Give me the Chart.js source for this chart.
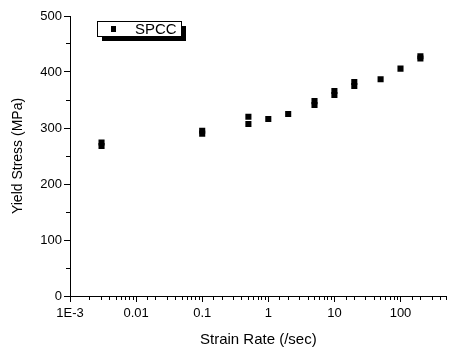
<!DOCTYPE html>
<html>
<head>
<meta charset="utf-8">
<script src="https://cdn.jsdelivr.net/npm/chart.js@4/dist/chart.umd.min.js"></script>
<style>
  html, body { margin: 0; padding: 0; background: #fff; }
  #wrap { width: 451px; height: 353px; }
</style>
</head>
<body>
<div id="wrap"><canvas id="myChart" width="451" height="353"></canvas></div>
<script>
// data (repeated rates = overlapping tests)
var strainRate = [0.003, 0.003, 0.1, 0.1, 0.5, 0.5, 1, 2, 5, 5, 10, 10, 20, 20, 50, 100, 200, 200];
var yieldStress = [268, 274, 290, 295, 320, 307, 316, 325, 341, 348, 359, 366, 375, 382, 387, 406, 424, 428];
var seriesName = 'SPCC';
var xTitle = 'Strain Rate (/sec)';
var yTitle = 'Yield Stress (MPa)';
var xTickValues = [0.001, 0.01, 0.1, 1, 10, 100];
var xTickLabels = ['1E-3', '0.01', '0.1', '1', '10', '100'];
var yTicks = [0, 100, 200, 300, 400, 500];

var FONT = 'Arial, "Liberation Sans", sans-serif';

var points = [];
for (var i = 0; i < strainRate.length; i++) {
  points.push({ x: strainRate[i], y: yieldStress[i] });
}

function isDecade(v) {
  var l = Math.log10(v);
  return Math.abs(l - Math.round(l)) < 1e-6;
}
function isMajorY(v) {
  return yTicks.indexOf(v) >= 0;
}

// x tick labels placed from the log scale (keeps the axis flush to the right edge)
var xLabels = {
  id: 'xLabels',
  afterDraw: function (chart) {
    var c = chart.ctx;
    var xs = chart.scales.x;
    var a = chart.chartArea;
    c.save();
    c.fillStyle = '#000';
    c.font = '13px ' + FONT;
    c.textAlign = 'center';
    c.textBaseline = 'middle';
    xTickValues.forEach(function (v, k) {
      c.fillText(xTickLabels[k], xs.getPixelForValue(v), a.bottom + 17);
    });
    c.restore();
  }
};

// boxed legend with drop shadow
var boxLegend = {
  id: 'boxLegend',
  afterDraw: function (chart) {
    var c = chart.ctx;
    var a = chart.chartArea;
    var x = a.left + 27, y = a.top + 5, w = 84, h = 15;
    c.save();
    c.fillStyle = '#000';
    c.fillRect(x + 5, y + 5, w, h);
    c.fillStyle = '#fff';
    c.fillRect(x, y, w, h);
    c.strokeStyle = '#000';
    c.lineWidth = 1;
    c.strokeRect(x + 0.5, y + 0.5, w, h);
    c.fillStyle = '#000';
    c.fillRect(x + 14, y + 5, 5, 6);
    c.font = '15px ' + FONT;
    c.textBaseline = 'middle';
    c.fillText(chart.data.datasets[0].label, x + 38, y + h / 2 + 1);
    c.restore();
  }
};

var CLEAR = 'rgba(0,0,0,0)';

var ctx = document.getElementById('myChart').getContext('2d');
new Chart(ctx, {
  type: 'scatter',
  data: {
    datasets: [
      {
        label: seriesName,
        data: points,
        pointStyle: 'rect',
        pointRadius: 4.3,
        pointBorderWidth: 0,
        backgroundColor: '#000',
        borderColor: '#000',
      },
    ],
  },
  options: {
    responsive: false,
    animation: false,
    layout: { padding: { top: 16, right: 0, left: 0, bottom: 0 } },
    plugins: {
      legend: { display: false },
      tooltip: { enabled: false },
    },
    scales: {
      x: {
        type: 'logarithmic',
        position: 'bottom',
        weight: 1,
        min: 0.001,
        max: 500,
        grid: {
          display: true,
          drawOnChartArea: false,
          drawTicks: true,
          tickLength: 6,
          tickColor: function (c) { return c.tick && isDecade(c.tick.value) ? '#000' : CLEAR; },
        },
        border: { display: true, color: '#000', width: 1 },
        ticks: { display: false, autoSkip: false, maxRotation: 0 },
        title: {
          display: true,
          text: xTitle,
          color: '#000',
          font: { family: FONT, size: 15 },
          padding: { top: 6, bottom: 4 },
        },
        afterFit: function (s) { s.height = 57; },
      },
      // short minor ticks along the x axis
      xMinor: {
        type: 'logarithmic',
        position: 'bottom',
        weight: 0,
        min: 0.001,
        max: 500,
        grid: {
          display: true,
          drawOnChartArea: false,
          drawTicks: true,
          tickLength: 4,
          tickColor: function (c) { return c.tick && !isDecade(c.tick.value) ? '#000' : CLEAR; },
        },
        border: { display: false },
        ticks: { display: false, autoSkip: false, maxRotation: 0 },
        afterFit: function (s) { s.height = 0; },
      },
      y: {
        position: 'left',
        weight: 1,
        min: 0,
        max: 500,
        grid: {
          display: true,
          drawOnChartArea: false,
          drawTicks: true,
          tickLength: 6,
          tickColor: function (c) { return c.tick && isMajorY(c.tick.value) ? '#000' : CLEAR; },
        },
        border: { display: true, color: '#000', width: 1 },
        ticks: {
          stepSize: 50,
          padding: 2,
          color: '#000',
          font: { family: FONT, size: 13 },
          callback: function (v) { return isMajorY(v) ? String(v) : ''; },
        },
        title: {
          display: true,
          text: yTitle,
          color: '#000',
          font: { family: FONT, size: 14 },
          padding: { top: 10, bottom: 4 },
        },
        afterFit: function (s) { s.width = 70; },
      },
      // short minor ticks along the y axis
      yMinor: {
        position: 'left',
        weight: 0,
        min: 0,
        max: 500,
        grid: {
          display: true,
          drawOnChartArea: false,
          drawTicks: true,
          tickLength: 4,
          tickColor: function (c) { return c.tick && !isMajorY(c.tick.value) ? '#000' : CLEAR; },
        },
        border: { display: false },
        ticks: { stepSize: 50, display: false },
        afterFit: function (s) { s.width = 0; },
      },
    },
  },
  plugins: [xLabels, boxLegend],
});
</script>
</body>
</html>
